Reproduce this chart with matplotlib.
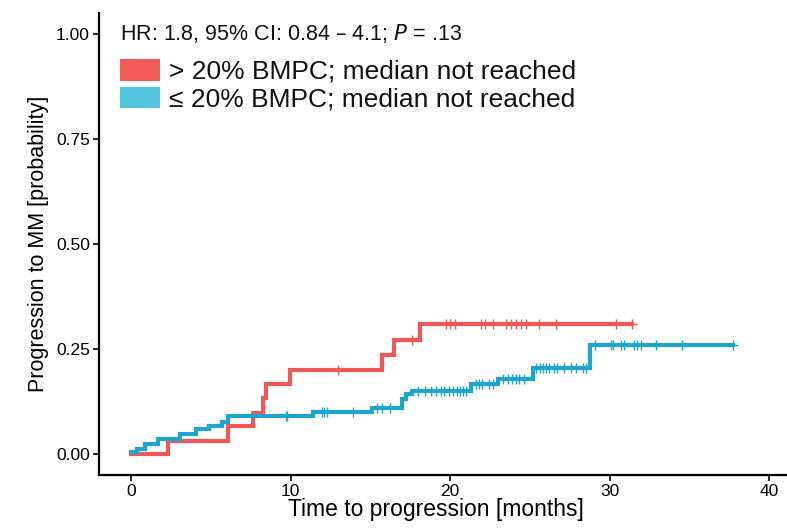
import matplotlib
matplotlib.use("Agg")
import matplotlib.pyplot as plt
from matplotlib.patches import Patch
import numpy as np

plt.rcParams['font.family'] = ['Liberation Sans', 'DejaVu Sans']

# Group > 20% BMPC: event steps (time, cumulative probability)
red_times = [0, 2.34, 6.1, 7.62, 8.25, 8.45, 9.95, 15.7, 16.5, 18.1]
red_probs = [0, 0.031, 0.065, 0.097, 0.133, 0.167, 0.200, 0.234, 0.270, 0.310]
red_end = 31.4
red_censor = [13.0, 17.6, 19.76, 19.97, 20.28, 21.95, 22.15, 22.68, 23.51, 23.83,
              24.14, 24.45, 24.76, 25.59, 26.64, 30.4, 31.4]

# Group <= 20% BMPC
blue_times = [0, 0.35, 0.9, 1.7, 3.1, 4.1, 4.9, 5.7, 6.1, 11.4, 15.07, 16.95, 17.26,
              17.6, 21.3, 22.97, 25.16, 28.75]
blue_probs = [0.004, 0.012, 0.024, 0.036, 0.048, 0.058, 0.066, 0.076, 0.090, 0.100, 0.110,
              0.131, 0.143, 0.150, 0.165, 0.178, 0.205, 0.260]
blue_end = 37.7
blue_censor = [9.7, 9.8, 11.95, 12.1, 12.26, 13.9, 15.4, 15.7, 16.2,
               18.0, 18.4, 18.8, 19.1, 19.4, 19.6, 19.9, 20.2, 20.4, 20.6, 20.8, 21.0,
               21.6, 21.8, 22.0, 22.4, 22.7, 23.3, 23.6, 23.9, 24.1, 24.3, 24.6,
               25.4, 25.6, 25.8, 26.0, 26.2, 26.5, 26.7, 27.1, 27.6, 27.9, 28.3, 28.5,
               29.1, 30.1, 30.2, 30.7, 30.9, 31.5, 31.7, 31.95, 32.9, 34.55, 37.7]

x_ticks = [0, 10, 20, 30, 40]
y_ticks = [0.00, 0.25, 0.50, 0.75, 1.00]
y_ticklabels = ["0.00", "0.25", "0.50", "0.75", "1.00"]

annot = "HR: 1.8, 95% CI: 0.84 \u2013 4.1; $\\it{P}$ = .13"
legend_labels = ["> 20% BMPC; median not reached", "\u2264 20% BMPC; median not reached"]

RED = "#F25757"
BLUE = "#1EA5CD"
RED_KEY = "#F55B5B"
BLUE_KEY = "#55C6E2"

W, H = 787, 528
fig = plt.figure(figsize=(W / 100, H / 100), dpi=100)
L, B, T = 99, 475, 12.7
ax = fig.add_axes([L / W, 1 - B / H, 1 - L / W, (B - T) / H])


def step_at(times, probs, t):
    idx = np.searchsorted(times, t, side='right') - 1
    return probs[idx]


def draw(times, probs, end, censor, color):
    xs = list(times) + [end]
    ys = list(probs) + [probs[-1]]
    ax.step(xs, ys, where='post', color=color, lw=3.0, solid_joinstyle='miter', zorder=3)
    cy = [step_at(times, probs, c) for c in censor]
    ax.plot(censor, cy, linestyle='none', marker='+', color=color, ms=7, mew=1.0, zorder=4)


draw(red_times, red_probs, red_end, red_censor, RED)
draw(blue_times, blue_probs, blue_end, blue_censor, BLUE)

x0px, pxm = 131.0, 15.96
y0px, pxu = 453.7, 420.0
ax.set_xlim((L - x0px) / pxm, (W - x0px) / pxm)
ax.set_ylim(-(B - y0px) / pxu, (y0px - T) / pxu)
ax.set_xticks(x_ticks)
ax.set_yticks(y_ticks)
ax.set_yticklabels(y_ticklabels)
for s in ['top', 'right']:
    ax.spines[s].set_visible(False)
for s in ['left', 'bottom']:
    ax.spines[s].set_linewidth(1.6)
ax.tick_params(axis='both', direction='out', length=4.5, width=1.2, colors='black',
               labelsize=12.5, pad=2)

ax.set_xlabel("Time to progression [months]", fontsize=16.5, labelpad=1)
ax.xaxis.set_label_coords((436 - L) / (W - L), -0.075)
ax.xaxis.label.set_verticalalignment('center')
ax.set_ylabel("Progression to MM [probability]", fontsize=15.5, labelpad=5)

ax.text(-0.7, 1.0, annot, fontsize=15.5, ha='left', va='center', color='#111111',
        transform=ax.transData)

handles = [Patch(facecolor=RED_KEY, edgecolor='none'), Patch(facecolor=BLUE_KEY, edgecolor='none')]
leg = fig.legend(handles, legend_labels, loc='upper left',
                 bbox_to_anchor=(120 / W, 1 - 59 / H),
                 frameon=False, fontsize=19, handlelength=1.5, handleheight=0.88,
                 handletextpad=0.36, labelspacing=0.1, borderpad=0, borderaxespad=0)
for t in leg.get_texts():
    t.set_color('#111111')

fig.savefig("out.png", dpi=100)
